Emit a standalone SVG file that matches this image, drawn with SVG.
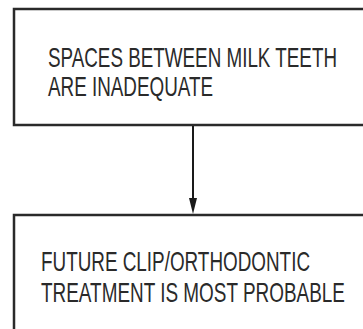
<svg xmlns="http://www.w3.org/2000/svg" width="363" height="329" viewBox="0 0 363 329">
<defs>
<style>
.box{fill:#fff;stroke:#2a2a2a;stroke-width:2.5}
.t{font-family:"Liberation Sans",Arial,sans-serif;font-size:28.5px;fill:#2a2a2a}
.c{stroke:#1a1a1a;stroke-width:2;fill:none}
</style>
</defs>
<rect width="363" height="329" fill="#fff"/>
<g id="node1">
<rect class="box" x="14" y="9" width="360" height="116"/>
<text class="t" x="48" y="67" textLength="289" lengthAdjust="spacingAndGlyphs">SPACES BETWEEN MILK TEETH</text>
<text class="t" x="48" y="96" textLength="165" lengthAdjust="spacingAndGlyphs">ARE INADEQUATE</text>
</g>
<g id="node2">
<rect class="box" x="14" y="215" width="360" height="130"/>
<text class="t" x="41" y="271" textLength="269" lengthAdjust="spacingAndGlyphs">FUTURE CLIP/ORTHODONTIC</text>
<text class="t" x="41" y="302" textLength="304" lengthAdjust="spacingAndGlyphs">TREATMENT IS MOST PROBABLE</text>
</g>
<g id="connectors">
<line class="c" x1="193" y1="126" x2="193" y2="199"/>
<path d="M189,198 L197,198 L193,214 Z" fill="#1a1a1a"/>
</g>
</svg>
